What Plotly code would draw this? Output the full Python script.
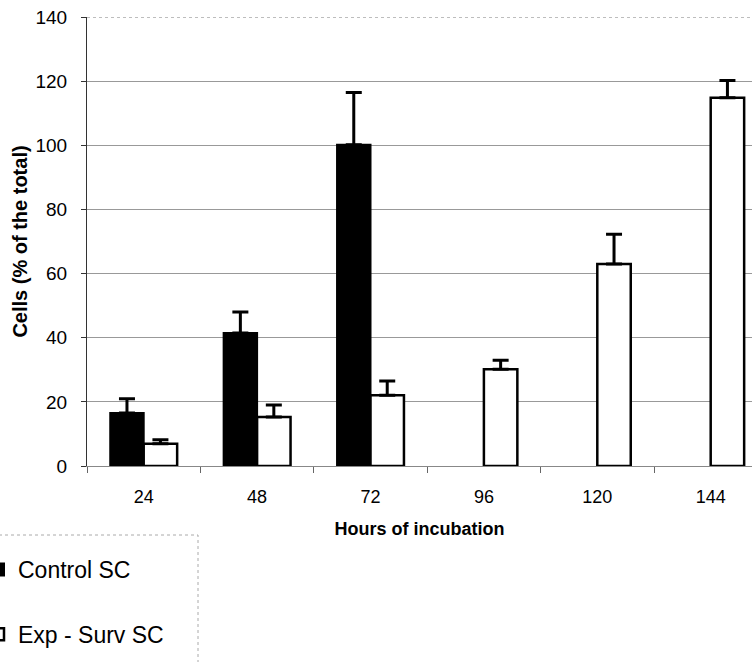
import plotly.graph_objects as go

# ---- data ----
hours = ["24", "48", "72", "96", "120", "144"]
control_sc = [16.5, 41.5, 100.2, None, None, None]
control_err = [4.5, 6.5, 16.3, None, None, None]
exp_surv_sc = [6.9, 15.3, 22.1, 30.2, 63.0, 114.8]
exp_surv_err = [1.3, 3.7, 4.4, 2.8, 9.3, 5.4]
y_ticks = [0, 20, 40, 60, 80, 100, 120, 140]

FONT = "Liberation Sans, Arial, sans-serif"

W, H = 752, 662
ML, MT, MB = 87, 17, 196
plot_w = W - ML
plot_h = H - MT - MB
cat_px = 113.4

fig = go.Figure()
fig.add_trace(go.Bar(
    name="Control SC", x=hours, y=control_sc,
    marker=dict(color="black", line=dict(color="black", width=2)),
    error_y=dict(type="data", symmetric=False, array=control_err,
                 arrayminus=[0] * len(hours), color="black", thickness=3, width=8),
    legendgroup="a",
))
fig.add_trace(go.Bar(
    name="Exp - Surv SC", x=hours, y=exp_surv_sc,
    marker=dict(color="white", line=dict(color="black", width=2.5)),
    error_y=dict(type="data", symmetric=False, array=exp_surv_err,
                 arrayminus=[0] * len(hours), color="black", thickness=3, width=8),
    legendgroup="b",
))

x_end = -0.5 + plot_w / cat_px

def px_to_paper_x(px):
    return (px - ML) / plot_w

def px_to_paper_y(py):
    return (MT + plot_h - py) / plot_h

fig.update_layout(
    width=W, height=H,
    margin=dict(l=ML, r=0, t=MT, b=MB, autoexpand=False),
    paper_bgcolor="white", plot_bgcolor="white",
    barmode="group", bargap=0.41, bargroupgap=0,
    font=dict(family=FONT, color="black", size=19),
    showlegend=True,
    legend=dict(
        x=px_to_paper_x(-22), y=px_to_paper_y(548), xanchor="left", yanchor="top",
        font=dict(family=FONT, size=23, color="black"),
        borderwidth=0, bgcolor="rgba(0,0,0,0)",
        tracegroupgap=32,
    ),
    xaxis=dict(
        type="category", range=[-0.5, x_end],
        showline=True, linecolor="#888", linewidth=1,
        ticks="outside", tickson="boundaries", ticklen=6, tickcolor="#666",
        tickfont=dict(family=FONT, size=18),
        ticklabelstandoff=14,
        showgrid=False,
        title=dict(text="Hours of incubation", font=dict(family=FONT, size=18, weight="bold"), standoff=16),
    ),
    yaxis=dict(
        range=[0, 140.02], tickvals=y_ticks,
        showline=True, linecolor="#333", linewidth=1,
        ticks="outside", ticklen=5, tickcolor="#333",
        tickfont=dict(family=FONT, size=19),
        ticklabelstandoff=10,
        showgrid=True, gridcolor="#999", gridwidth=1,
        zeroline=False,
        title=dict(text="Cells (% of the total)", font=dict(family=FONT, size=20, weight="bold"), standoff=2),
    ),
    shapes=[
        dict(
            type="rect", xref="paper", yref="paper",
            x0=px_to_paper_x(-5), x1=px_to_paper_x(198),
            y0=px_to_paper_y(670), y1=px_to_paper_y(535),
            line=dict(color="#aaa", width=1, dash="dot"), fillcolor="rgba(0,0,0,0)", layer="above",
        ),
        dict(
            type="line", xref="paper", yref="y",
            x0=0, x1=1, y0=y_ticks[-1], y1=y_ticks[-1],
            line=dict(color="#888", width=1, dash="dot"), layer="below",
        ),
    ],
)

fig.write_html("out.html")
